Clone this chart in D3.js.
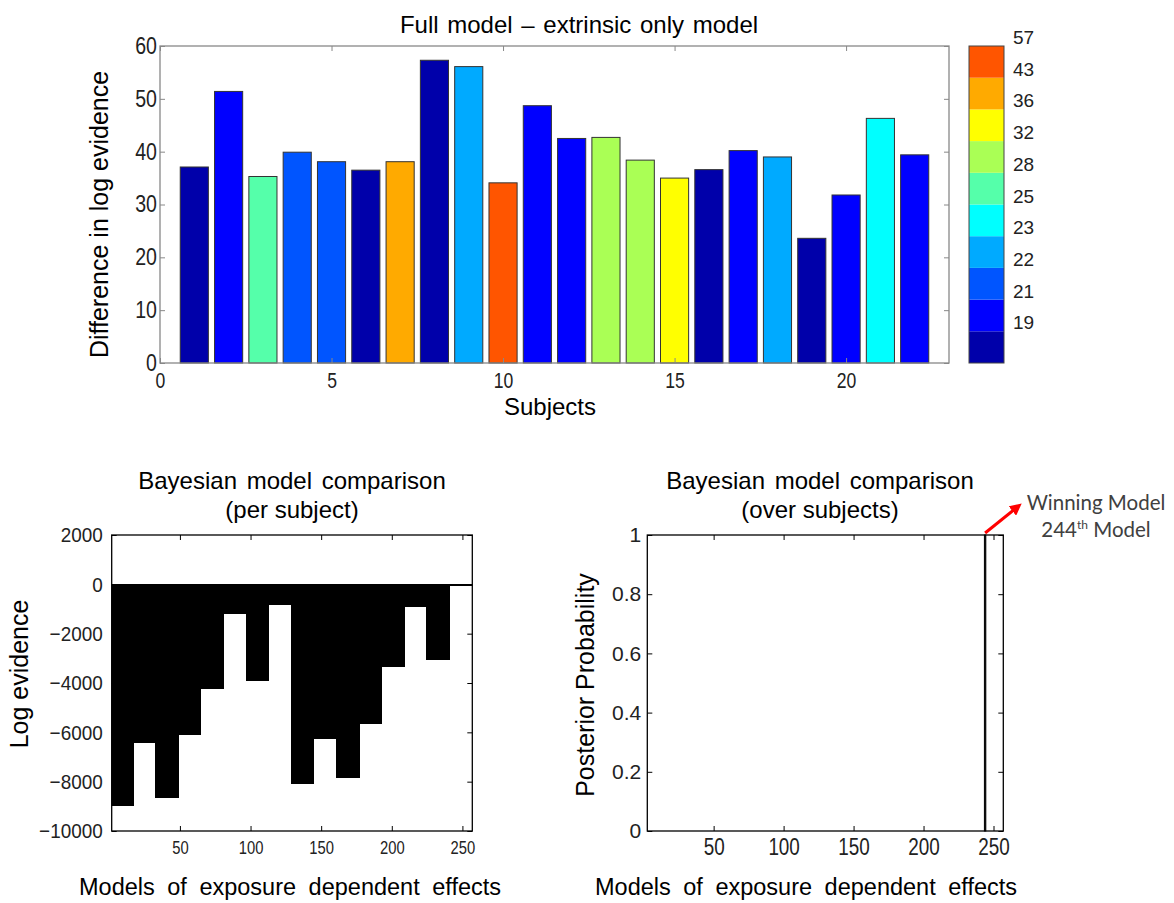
<!DOCTYPE html>
<html>
<head>
<meta charset="utf-8">
<script src="https://cdn.jsdelivr.net/npm/d3@7"></script>
<style>
  body { margin: 0; background: #fff; }
  svg { display: block; }
  .tick text { font-family: "Liberation Sans", Arial, sans-serif; }
  .lab { font-family: "Liberation Sans", Arial, sans-serif; }
</style>
</head>
<body>
<div id="chart"></div>
<script>
// ---- data: top panel (difference in log evidence per subject) ----
var subjects = [1, 2, 3, 4, 5, 6, 7, 8, 9, 10, 11, 12, 13, 14, 15, 16, 17, 18, 19, 20, 21, 22];
var logEvidenceDiff = [37.1, 51.4, 35.3, 39.9, 38.1, 36.5, 38.1, 57.3, 56.1, 34.1, 48.7,
                       42.5, 42.7, 38.4, 35.0, 36.6, 40.2, 39.0, 23.6, 31.8, 46.3, 39.4];
// colour bin (0 = bottom of colour bar) for each subject
var colourBin = [0, 1, 5, 2, 2, 0, 8, 0, 3, 9, 1, 1, 6, 6, 7, 0, 1, 3, 0, 1, 4, 1];
var binColours = ['#0000aa', '#0000ff', '#0055ff', '#00aaff', '#00ffff',
                  '#55ffaa', '#aaff55', '#ffff00', '#ffaa00', '#ff5500'];
var binLabels = [19, 21, 22, 23, 25, 28, 32, 36, 43, 57];
var topYTicks = [0, 10, 20, 30, 40, 50, 60];
var topXTicks = [0, 5, 10, 15, 20];

// ---- data: bottom left (log evidence per model, 256 models in blocks of 16) ----
var modelsPerBlock = 16;
var blockLogEvidence = [-9000, -6450, -8650, -6100, -4250, -1200, -3900, -850,
                        -8100, -6250, -7850, -5650, -3350, -900, -3050, -50];
var leftYTicks = [-10000, -8000, -6000, -4000, -2000, 0, 2000];
var modelTicks = [50, 100, 150, 200, 250];

// ---- data: bottom right (posterior probability, non-zero entries only) ----
var nModels = 256;
var posteriorModels = [244];
var posteriorValues = [1];
var rightYTicks = [0, 0.2, 0.4, 0.6, 0.8, 1];

var width = 1174, height = 903;

var svg = d3.select('#chart').append('svg')
  .attr('width', width)
  .attr('height', height);

svg.append('defs').append('marker')
  .attr('id', 'arrow')
  .attr('viewBox', '0 0 10 10')
  .attr('refX', 4).attr('refY', 5)
  .attr('markerWidth', 4).attr('markerHeight', 4)
  .attr('orient', 'auto')
  .append('path')
  .attr('d', 'M0,0 L10,5 L0,10 z')
  .attr('fill', '#ff0000');

// narrow the tick labels a bit, the original font is condensed
function squeeze(sel, size, f) {
  sel.style('font-size', size + 'px').each(function() {
    var w = this.getComputedTextLength();
    d3.select(this).attr('textLength', w * f).attr('lengthAdjust', 'spacingAndGlyphs');
  });
}

// draws a MATLAB style box with inward ticks
function drawBox(g, x, y, xTicks, yTicks, col, fmtY, opt) {
  var x0 = x.range()[0], x1 = x.range()[1];
  var y0 = y.range()[0], y1 = y.range()[1];
  var tl = 5;

  var ax = g.append('g')
    .attr('transform', 'translate(0,' + y0 + ')')
    .call(d3.axisBottom(x).tickValues(xTicks).tickSize(-tl).tickPadding(opt.xPad))
    .call(function(a) { a.select('.domain').remove(); });

  g.append('g')
    .attr('transform', 'translate(0,' + y1 + ')')
    .call(d3.axisTop(x).tickValues(xTicks).tickSize(-tl).tickFormat(''))
    .call(function(a) { a.select('.domain').remove(); });

  var ay = g.append('g')
    .attr('transform', 'translate(' + x0 + ',0)')
    .call(d3.axisLeft(y).tickValues(yTicks).tickSize(-tl).tickPadding(opt.yPad).tickFormat(fmtY))
    .call(function(a) { a.select('.domain').remove(); });

  g.append('g')
    .attr('transform', 'translate(' + x1 + ',0)')
    .call(d3.axisRight(y).tickValues(yTicks).tickSize(-tl).tickFormat(''))
    .call(function(a) { a.select('.domain').remove(); });

  g.selectAll('.tick line').attr('stroke', col);
  g.selectAll('.tick text').attr('fill', '#222');
  squeeze(ax.selectAll('.tick text'), opt.xSize, opt.xSqueeze);
  squeeze(ay.selectAll('.tick text'), opt.ySize, opt.ySqueeze);

  g.append('rect')
    .attr('x', x0).attr('y', y1)
    .attr('width', x1 - x0).attr('height', y0 - y1)
    .attr('fill', 'none')
    .attr('stroke', col)
    .attr('stroke-width', 1.3);
}

// ================= top panel =================
var xTop = d3.scaleLinear().domain([0, 23]).range([160, 949]);
var yTop = d3.scaleLinear().domain([0, 60]).range([363, 46]);
var gTop = svg.append('g');

gTop.selectAll('rect.bar')
  .data(subjects)
  .enter()
  .append('rect')
  .attr('class', 'bar')
  .attr('x', function(d) { return xTop(d - 0.41); })
  .attr('width', xTop(0.82) - xTop(0))
  .attr('y', function(d, i) { return yTop(logEvidenceDiff[i]); })
  .attr('height', function(d, i) { return yTop(0) - yTop(logEvidenceDiff[i]); })
  .attr('fill', function(d, i) { return binColours[colourBin[i]]; })
  .attr('stroke', '#333')
  .attr('stroke-width', 1);

drawBox(gTop, xTop, yTop, topXTicks, topYTicks, '#888', d3.format('d'),
  { xPad: 9, yPad: 3, xSize: 22, xSqueeze: 0.8, ySize: 23, ySqueeze: 0.85 });

gTop.append('text').attr('class', 'lab')
  .attr('x', 579).attr('y', 33)
  .attr('text-anchor', 'middle')
  .style('font-size', '24px')
  .style('word-spacing', '2px')
  .text('Full model \u2013 extrinsic only model');

gTop.append('text').attr('class', 'lab')
  .attr('x', 550).attr('y', 415)
  .attr('text-anchor', 'middle')
  .style('font-size', '24px')
  .text('Subjects');

gTop.append('text').attr('class', 'lab')
  .attr('transform', 'translate(108,' + ((46 + 363) / 2 + 10) + ') rotate(-90)')
  .attr('text-anchor', 'middle')
  .style('font-size', '25px')
  .text('Difference in log evidence');

// colour bar
var yBar = d3.scaleBand().domain(d3.range(binColours.length)).range([363, 46]).paddingInner(0);
var gBar = svg.append('g');
gBar.selectAll('rect')
  .data(binColours)
  .enter()
  .append('rect')
  .attr('x', 969)
  .attr('width', 35)
  .attr('y', function(d, i) { return yBar(i); })
  .attr('height', yBar.bandwidth())
  .attr('fill', function(d) { return d; });
gBar.append('rect')
  .attr('x', 969).attr('y', 46)
  .attr('width', 35).attr('height', 317)
  .attr('fill', 'none').attr('stroke', '#444').attr('stroke-width', 1);
gBar.selectAll('text')
  .data(binLabels)
  .enter()
  .append('text')
  .attr('class', 'lab')
  .attr('x', 1013)
  .attr('y', function(d, i) { return yBar(i) - 2; })
  .style('font-size', '19px')
  .attr('fill', '#222')
  .text(function(d) { return d; });

// ================= bottom left =================
var models = d3.range(1, nModels + 1);
var xL = d3.scaleLinear().domain([1.7, 257]).range([111.7, 472.3]);
var yL = d3.scaleLinear().domain([-10000, 2000]).range([831, 535]);
var gL = svg.append('g');

gL.append('clipPath').attr('id', 'clipL')
  .append('rect')
  .attr('x', 111.7).attr('y', 535)
  .attr('width', 472.3 - 111.7).attr('height', 831 - 535);

gL.append('g').attr('clip-path', 'url(#clipL)')
  .selectAll('rect')
  .data(models)
  .enter()
  .append('rect')
  .attr('x', function(d) { return xL(d - 0.5); })
  .attr('width', xL(1) - xL(0) + 1)
  .attr('y', yL(0))
  .attr('height', function(d) {
    return Math.max(1.5, yL(blockLogEvidence[Math.floor((d - 1) / modelsPerBlock)]) - yL(0));
  })
  .attr('fill', '#000')
  .attr('shape-rendering', 'crispEdges');

drawBox(gL, xL, yL, modelTicks, leftYTicks, '#000', d3.format('d'),
  { xPad: 10, yPad: 9, xSize: 18, xSqueeze: 0.82, ySize: 21, ySqueeze: 0.9 });

gL.append('text').attr('class', 'lab')
  .attr('x', 292).attr('y', 489)
  .attr('text-anchor', 'middle')
  .style('font-size', '24px')
  .style('word-spacing', '3px')
  .text('Bayesian model comparison');
gL.append('text').attr('class', 'lab')
  .attr('x', 292).attr('y', 518)
  .attr('text-anchor', 'middle')
  .style('font-size', '24px')
  .text('(per subject)');
gL.append('text').attr('class', 'lab')
  .attr('x', 290).attr('y', 895)
  .attr('text-anchor', 'middle')
  .style('font-size', '23.5px')
  .style('word-spacing', '6px')
  .text('Models of exposure dependent effects');
gL.append('text').attr('class', 'lab')
  .attr('transform', 'translate(28,674) rotate(-90)')
  .attr('text-anchor', 'middle')
  .style('font-size', '25px')
  .text('Log evidence');

// ================= bottom right =================
var xR = d3.scaleLinear().domain([2.6, 257]).range([647.3, 1003.3]);
var yR = d3.scaleLinear().domain([0, 1]).range([831, 535]);
var gR = svg.append('g');

gR.selectAll('rect.bar')
  .data(posteriorModels)
  .enter()
  .append('rect')
  .attr('class', 'bar')
  .attr('x', function(d) { return xR(d - 0.5); })
  .attr('width', xR(1) - xR(0))
  .attr('y', function(d, i) { return yR(posteriorValues[i]); })
  .attr('height', function(d, i) { return yR(0) - yR(posteriorValues[i]); })
  .attr('fill', '#000')
  .attr('stroke', '#000')
  .attr('stroke-width', 1);

drawBox(gR, xR, yR, modelTicks, rightYTicks, '#000',
  function(d) { return d === 0 || d === 1 ? d : d3.format('.1f')(d); },
  { xPad: 8, yPad: 6, xSize: 23, xSqueeze: 0.82, ySize: 21, ySqueeze: 1 });

gR.append('text').attr('class', 'lab')
  .attr('x', 820).attr('y', 489)
  .attr('text-anchor', 'middle')
  .style('font-size', '24px')
  .style('word-spacing', '3px')
  .text('Bayesian model comparison');
gR.append('text').attr('class', 'lab')
  .attr('x', 820).attr('y', 518)
  .attr('text-anchor', 'middle')
  .style('font-size', '24px')
  .text('(over subjects)');
gR.append('text').attr('class', 'lab')
  .attr('x', 806).attr('y', 895)
  .attr('text-anchor', 'middle')
  .style('font-size', '23.5px')
  .style('word-spacing', '6px')
  .text('Models of exposure dependent effects');
gR.append('text').attr('class', 'lab')
  .attr('transform', 'translate(594,685) rotate(-90)')
  .attr('text-anchor', 'middle')
  .style('font-size', '25px')
  .text('Posterior Probability');

// winning model annotation
var wx = xR(posteriorModels[0]), wy = yR(posteriorValues[0]);
gR.append('line')
  .attr('x1', wx).attr('y1', wy - 2)
  .attr('x2', wx + 31).attr('y2', wy - 27)
  .attr('stroke', '#ff0000')
  .attr('stroke-width', 3)
  .attr('marker-end', 'url(#arrow)');

var ann = gR.append('text')
  .attr('x', 1096).attr('y', 510)
  .attr('text-anchor', 'middle')
  .style('font-family', 'Lato, "Open Sans", sans-serif')
  .style('font-size', '20.5px')
  .attr('fill', '#404040');
ann.text('Winning Model');

var ann2 = gR.append('text')
  .attr('x', 1096).attr('y', 537)
  .attr('text-anchor', 'middle')
  .style('font-family', 'Lato, "Open Sans", sans-serif')
  .style('font-size', '20.5px')
  .attr('fill', '#404040');
ann2.append('tspan').text(posteriorModels[0]);
ann2.append('tspan').attr('dy', -8).style('font-size', '12px').text('th');
ann2.append('tspan').attr('dy', 8).text(' Model');
</script>
</body>
</html>
